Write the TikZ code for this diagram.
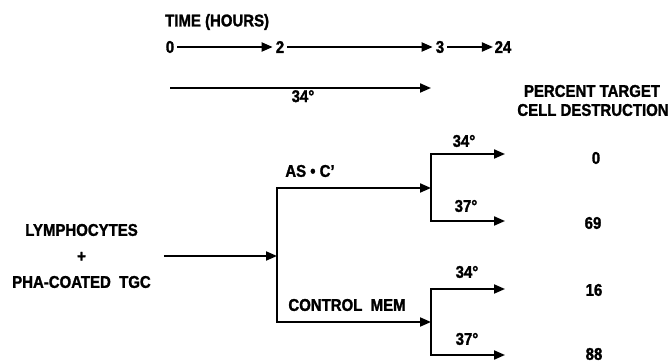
\documentclass[tikz,border=0pt]{standalone}
\usepackage{fontspec}
\setmainfont{Liberation Sans}[BoldFont={Liberation Sans Bold}, BoldFeatures={FakeStretch=0.88, FakeBold=1.5}]
\usetikzlibrary{arrows.meta}
\begin{document}
\begin{tikzpicture}[x=1pt,y=-1pt,
  lbl/.style={font=\bfseries\fontsize{17}{19}\selectfont, inner sep=0pt},
  tlbl/.style={lbl, inner xsep=3pt},
  ln/.style={line width=2pt},
  arr/.style={ln, -{Triangle[length=11pt,width=9pt]}}]
\useasboundingbox (0,0) rectangle (669,363);
% time axis
\node[lbl, anchor=west] (time) at (165,22) {TIME (HOURS)};
\node[tlbl] (t0) at (170,47) {0};
\node[tlbl] (t2) at (280,47) {2};
\node[tlbl] (t3) at (440,47) {3};
\node[tlbl, inner xsep=1.5pt] (t24) at (503,47) {24};
\draw[arr] (t0) -- (t2);
\draw[arr] (t2) -- (t3);
\draw[arr] (t3) -- (t24);
% 34 degree bar
\coordinate (s0) at (170,88);
\coordinate (s1) at (431,88);
\draw[arr] (s0) -- (s1);
\node[lbl, anchor=north] (b34) at (303,90) {34°};
% heading
\node[lbl] (pct1) at (592,91) {PERCENT TARGET};
\node[lbl] (pct2) at (593,110) {CELL DESTRUCTION};
% source
\node[lbl, align=center] (src) at (81.5,256) {LYMPHOCYTES\\[7pt]+\\[7pt]PHA-COATED\ \ TGC};
\coordinate (sp) at (277,256);
\draw[arr] ([xshift=13pt]src.east) -- (sp);
\coordinate (A) at (277,188);
\coordinate (B) at (277,322);
\coordinate (A2) at (431,188);
\coordinate (B2) at (431,322);
\draw[ln] ([yshift=-1pt]A) -- ([yshift=1pt]B);
\draw[arr] ([xshift=-1pt]A) -- (A2);
\draw[arr] ([xshift=-1pt]B) -- (B2);
\node[lbl] (as) at (310,171) {AS • C’};
\node[lbl] (ctl) at (347,305) {CONTROL\ \ MEM};
% right branches
\coordinate (a1) at (431,154);
\coordinate (a2) at (431,221);
\coordinate (b1) at (431,289);
\coordinate (b2) at (431,355);
\coordinate (a1e) at (505,154);
\coordinate (a2e) at (505,221);
\coordinate (b1e) at (505,289);
\coordinate (b2e) at (505,355);
\draw[ln] ([yshift=-1pt]a1) -- ([yshift=1pt]a2);
\draw[ln] ([yshift=-1pt]b1) -- ([yshift=1pt]b2);
\draw[arr] ([xshift=-1pt]a1) -- (a1e);
\draw[arr] ([xshift=-1pt]a2) -- (a2e);
\draw[arr] ([xshift=-1pt]b1) -- (b1e);
\draw[arr] ([xshift=-1pt]b2) -- (b2e);
\node[lbl] (la1) at (464,141) {34°};
\node[lbl] (la2) at (466,206) {37°};
\node[lbl] (lb1) at (467,272) {34°};
\node[lbl] (lb2) at (467,339) {37°};
% results
\node[lbl] (r1) at (596,158) {0};
\node[lbl] (r2) at (593,223) {69};
\node[lbl] (r3) at (594,290) {16};
\node[lbl] (r4) at (594,354) {88};
\end{tikzpicture}
\end{document}
